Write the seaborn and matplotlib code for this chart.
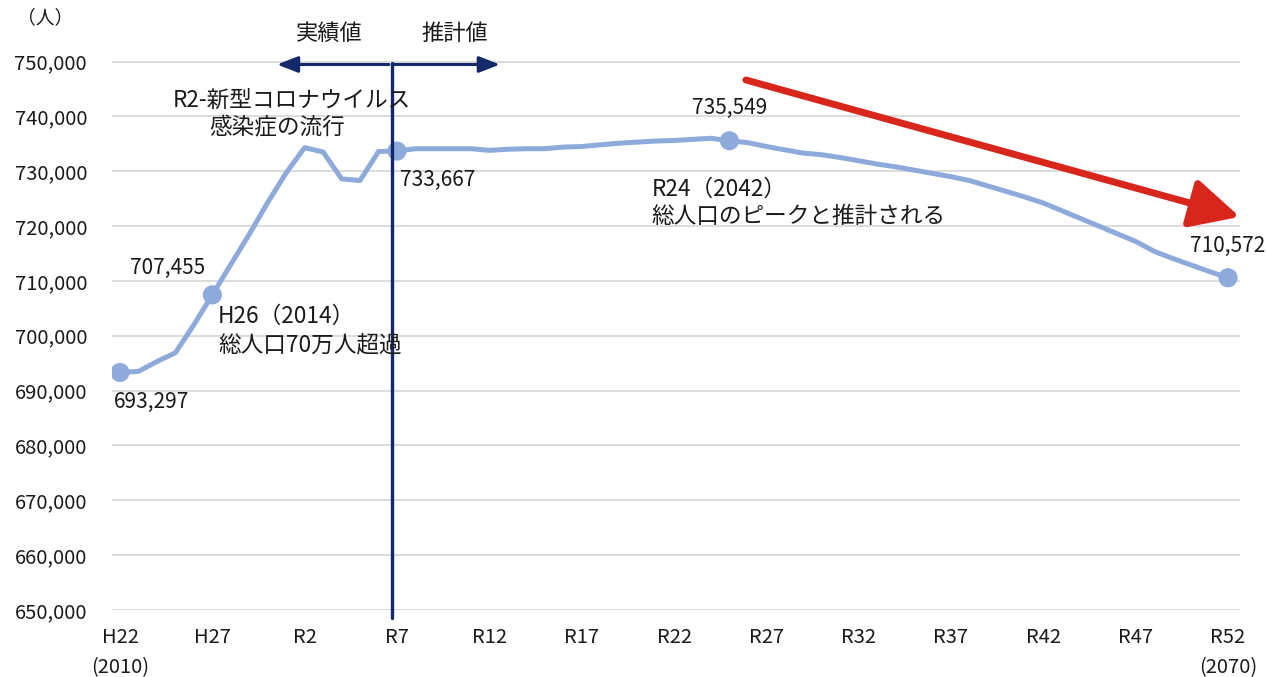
import matplotlib
matplotlib.use("Agg")
import matplotlib.pyplot as plt
import seaborn as sns
import pandas as pd
import numpy as np

# ---- data ----
years = list(range(2010, 2071))
population = [
    693297, 693500, 695300, 696900, 702000, 707455, 713000, 718500, 724300, 729700,
    734300, 733500, 728600, 728300, 733600, 733667, 734100, 734100, 734100, 734100,
    733800, 734000, 734100, 734100, 734400, 734500, 734800, 735100, 735300, 735500,
    735600, 735800, 736000, 735549, 735200, 734500, 733900, 733300, 733000, 732500,
    731900, 731300, 730800, 730200, 729600, 729000, 728300, 727300, 726300, 725300,
    724200, 722800, 721400, 720000, 718600, 717200, 715400, 714100, 712900, 711700,
    710572,
]
marker_years = [2010, 2015, 2025, 2043, 2070]
marker_labels = ["693,297", "707,455", "733,667", "735,549", "710,572"]
tick_years = list(range(2010, 2071, 5))
tick_labels = ["H22\n(2010)", "H27", "R2", "R7", "R12", "R17", "R22", "R27",
               "R32", "R37", "R42", "R47", "R52\n(2070)"]
y_ticks = list(range(650000, 750001, 10000))

df = pd.DataFrame({"year": years, "pop": population})
mk = df[df["year"].isin(marker_years)]

sns.set_theme(style="white")
plt.rcParams["font.family"] = ["Noto Sans CJK JP", "DejaVu Sans"]

W, H = 1266, 677
fig = plt.figure(figsize=(W / 100, H / 100), dpi=100)
ax = fig.add_axes([112 / W, 1 - 610 / H, (1240 - 112) / W, (610 - 61.5) / H])

line_color = "#8EAADB"
sns.lineplot(data=df, x="year", y="pop", ax=ax, color=line_color, linewidth=3.6, zorder=3)
sns.scatterplot(data=mk, x="year", y="pop", ax=ax, color=line_color, s=190,
                edgecolor="none", zorder=4)

ax.set_xlim(2010 - 8 / 18.47, 2070 + 12 / 18.47)
ax.set_ylim(650000, 750000)
ax.set_yticks(y_ticks)
ax.set_yticklabels([f"{v:,}" for v in y_ticks])
ax.set_xticks(tick_years)
ax.set_xticklabels(tick_labels, linespacing=1.6)
ax.tick_params(axis="y", length=0, pad=18, labelsize=14.5, colors="#1a1a1a")
ax.tick_params(axis="x", length=0, pad=12, labelsize=14.5, colors="#1a1a1a")
for lab in ax.get_xticklabels():
    lab.set_verticalalignment("top")
ax.set_xlabel("")
ax.set_ylabel("")
ax.grid(axis="y", color="#D9D9D9", linewidth=1.3)
ax.grid(axis="x", visible=False)
for s in ax.spines.values():
    s.set_visible(False)

# unit label
fig.text(45 / W, 1 - 18 / H, "（人）", ha="center", va="center", fontsize=13.5, color="#1a1a1a")


def px2data(px, py):
    x = 2010 + (px - 120) / 18.47
    y = 750000 - (py - 61.5) / 54.9 * 10000
    return x, y


# data labels
data_label_xy = [(152, 402), (168, 268), (438, 180), (730, 108), (1228, 246)]
for (px, py), txt in zip(data_label_xy, marker_labels):
    x, y = px2data(px, py)
    ax.text(x, y, txt, ha="center", va="center", fontsize=15, color="#1a1a1a", zorder=6)

# annotations
ann_fs = 16.3
x, y = px2data(292, 100)
ax.text(x, y, "R2-新型コロナウイルス", ha="center", va="center", fontsize=ann_fs, color="#1a1a1a", zorder=6)
x, y = px2data(277, 128)
ax.text(x, y, "感染症の流行", ha="center", va="center", fontsize=ann_fs, color="#1a1a1a", zorder=6)
x, y = px2data(218, 317)
ax.text(x, y, "H26（2014）", ha="left", va="center", fontsize=ann_fs, color="#1a1a1a", zorder=6)
x, y = px2data(218, 345)
ax.text(x, y, "総人口70万人超過", ha="left", va="center", fontsize=ann_fs, color="#1a1a1a", zorder=6)
x, y = px2data(652, 189)
ax.text(x, y, "R24（2042）", ha="left", va="center", fontsize=ann_fs, color="#1a1a1a", zorder=6)
x, y = px2data(652, 217)
ax.text(x, y, "総人口のピークと推計される", ha="left", va="center", fontsize=ann_fs, color="#1a1a1a", zorder=6)

# 実績値 / 推計値
fig.text(329 / W, 1 - 33 / H, "実績値", ha="center", va="center", fontsize=16, color="#1a1a1a")
fig.text(455 / W, 1 - 33 / H, "推計値", ha="center", va="center", fontsize=16, color="#1a1a1a")

navy = "#14296B"
vx, _ = px2data(392, 0)
ax.axvline(vx, ymin=-8 / 548.5, ymax=1 - 1.5 / 548.5, color=navy, linewidth=2.4,
           clip_on=False, zorder=5)
ya = px2data(0, 64.5)[1]
xl, _ = px2data(277, 0)
xr, _ = px2data(500, 0)
xs, _ = px2data(389, 0)
xs2, _ = px2data(393, 0)
for tgt, src in [((xl, ya), (xs, ya)), ((xr, ya), (xs2, ya))]:
    ax.annotate("", xy=tgt, xytext=src,
                arrowprops=dict(arrowstyle="-|>,head_length=0.9,head_width=0.35",
                                color=navy, lw=2.2, mutation_scale=14, shrinkA=0, shrinkB=0),
                annotation_clip=False, zorder=5)

# red trend arrow
rs = px2data(746, 80)
rt = px2data(1240, 217)
ax.annotate("", xy=rt, xytext=rs,
            arrowprops=dict(arrowstyle="-|>,head_length=1.5,head_width=0.75",
                            color="#D9261C", lw=5, mutation_scale=20, shrinkA=0, shrinkB=0),
            annotation_clip=False, zorder=5)

fig.savefig("out.png", dpi=100)
